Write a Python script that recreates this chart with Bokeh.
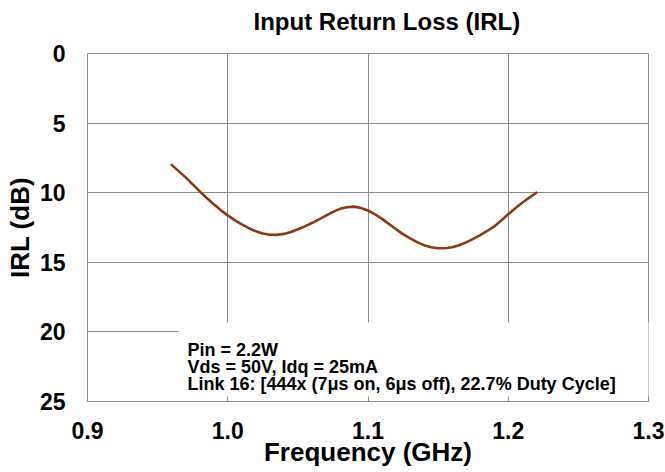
from bokeh.plotting import figure
from bokeh.models import Range1d, FixedTicker, Label, BoxAnnotation, Title
from bokeh.embed import file_html
from bokeh.resources import INLINE

# ---- data ----
freq_ghz = [0.960, 0.965, 0.970, 0.975, 0.980, 0.985, 0.990, 0.995, 1.000,
            1.005, 1.010, 1.015, 1.020, 1.025, 1.030, 1.035, 1.040, 1.045,
            1.050, 1.055, 1.060, 1.065, 1.070, 1.075, 1.080, 1.085, 1.090,
            1.095, 1.100, 1.105, 1.110, 1.115, 1.120, 1.125, 1.130, 1.135,
            1.140, 1.145, 1.150, 1.155, 1.160, 1.165, 1.170, 1.175, 1.180,
            1.185, 1.190, 1.195, 1.200, 1.205, 1.210, 1.215, 1.220]
irl_db = [8.00, 8.45, 8.90, 9.40, 9.90, 10.38, 10.83, 11.25, 11.63,
          11.97, 12.28, 12.55, 12.77, 12.93, 13.02, 13.03, 12.96, 12.82,
          12.63, 12.42, 12.18, 11.92, 11.65, 11.38, 11.16, 11.04, 11.00,
          11.10, 11.28, 11.55, 11.88, 12.25, 12.63, 12.98, 13.28, 13.55,
          13.77, 13.92, 13.99, 13.99, 13.92, 13.78, 13.57, 13.32, 13.05,
          12.75, 12.42, 12.00, 11.55, 11.12, 10.72, 10.35, 10.00]
x_ticks = [0.9, 1.0, 1.1, 1.2, 1.3]
y_ticks = [0, 5, 10, 15, 20, 25]
x_tick_labels = {0.9: "0.9", 1.0: "1.0", 1.1: "1.1", 1.2: "1.2", 1.3: "1.3"}
title_text = "Input Return Loss (IRL)"
note_lines = ["Pin = 2.2W",
              "Vds = 50V, Idq = 25mA",
              "Link 16: [444x (7\u03bcs on, 6\u03bcs off), 22.7% Duty Cycle]"]

FONT = "Liberation Sans"
GRID = "#8c8c8c"

p = figure(width=665, height=472, output_backend="svg", toolbar_location=None,
           x_range=Range1d(0.9, 1.3), y_range=Range1d(25, 0),
           min_border_left=87, min_border_right=17, min_border_top=53,
           min_border_bottom=71)
p.title = None

# spacer panel between plot area and title (pushes the title upwards)
p.add_layout(Title(text=" ", text_font_size="10px", standoff=5), "above")
p.add_layout(Title(text=title_text, align="left", offset=166,
                   text_font=FONT, text_font_size="24px",
                   text_font_style="bold", text_color="black", standoff=2),
             "above")

p.line(freq_ghz, irl_db, line_color="#8a3b12", line_width=2.6,
       line_join="round", line_cap="round")

for ax in (p.xaxis[0], p.yaxis[0]):
    ax.axis_line_color = None
    ax.major_tick_line_color = None
    ax.minor_tick_line_color = None
    ax.major_tick_out = 0
    ax.major_tick_in = 0
    ax.major_label_text_font = FONT
    ax.major_label_text_font_size = "23px"
    ax.major_label_text_font_style = "bold"
    ax.major_label_text_color = "black"
    ax.axis_label_text_font = FONT
    ax.axis_label_text_font_size = "26px"
    ax.axis_label_text_font_style = "bold"
    ax.axis_label_text_color = "black"

p.xaxis.ticker = FixedTicker(ticks=x_ticks)
p.xaxis.major_label_overrides = x_tick_labels
p.xaxis.axis_label = "Frequency (GHz)"
p.xaxis.major_label_standoff = 20
p.xaxis.axis_label_standoff = -5

p.yaxis.ticker = FixedTicker(ticks=y_ticks)
p.yaxis.axis_label = "IRL (dB)"
p.yaxis.major_label_standoff = 22
p.yaxis.axis_label_standoff = 2

p.xgrid.grid_line_color = GRID
p.ygrid.grid_line_color = GRID
p.xgrid.grid_line_width = 1
p.ygrid.grid_line_width = 1
p.outline_line_color = GRID
p.outline_line_width = 1

# white box behind the test-condition note
note_box = BoxAnnotation(left=0.9649, right=1.302, top=19.32, bottom=24.64,
                         fill_color="white", fill_alpha=1.0, line_color=None)
p.add_layout(note_box)

note = Label(x=0.9713, y=20.58, text="\n".join(note_lines), anchor="top_left",
             text_font=FONT, text_font_size="18px", text_font_style="bold",
             text_color="black", text_line_height=0.86)
p.add_layout(note)

open("out.html", "w").write(file_html(p, INLINE))
